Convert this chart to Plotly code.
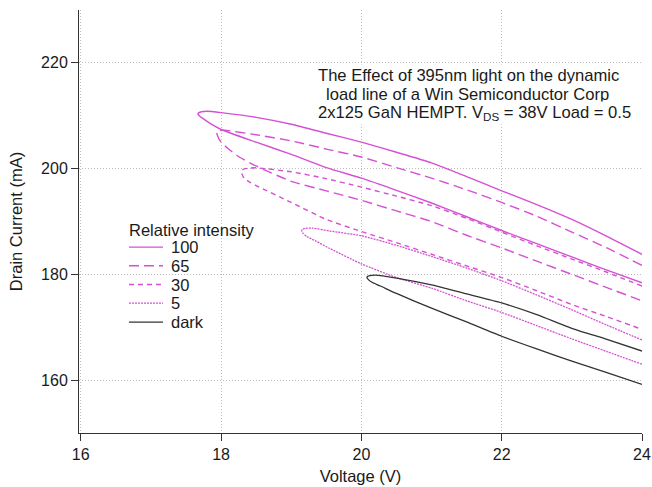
import plotly.graph_objects as go

# ---- data (Voltage V, Drain current mA) ----
series_names = ["100", "65", "30", "5", "dark"]

v100_top = [17.67, 17.72, 17.8, 18.0, 18.5, 19.0, 19.5, 20.0, 20.5, 21.0, 21.5, 22.0, 22.5, 23.0, 23.5, 24.0]
i100_top = [210.45, 210.75, 210.85, 210.6, 209.7, 208.4, 206.7, 205.0, 203.1, 201.1, 198.5, 195.8, 193.2, 190.4, 187.2, 183.8]
v100_bot = [17.67, 17.69, 17.75, 17.85, 18.0, 18.5, 19.0, 19.5, 20.0, 20.5, 21.0, 21.5, 22.0, 22.5, 23.0, 23.5, 24.0]
i100_bot = [210.45, 210.0, 209.4, 208.5, 207.4, 205.0, 202.7, 200.2, 198.2, 195.9, 193.5, 190.9, 188.3, 185.8, 183.3, 180.8, 178.4]

v65_top = [17.94, 17.97, 18.05, 18.5, 19.0, 19.5, 20.0, 20.5, 21.0, 21.5, 22.0, 22.5, 23.0, 23.5, 24.0]
i65_top = [206.9, 207.15, 207.25, 206.4, 205.25, 203.7, 202.2, 200.2, 198.2, 196.0, 193.6, 191.0, 188.0, 185.0, 181.7]
v65_bot = [17.94, 17.95, 17.99, 18.1, 18.27, 18.5, 19.0, 19.5, 20.0, 20.5, 21.0, 21.5, 22.0, 22.5, 23.0, 23.5, 24.0]
i65_bot = [206.9, 206.2, 205.2, 203.8, 202.1, 200.5, 197.6, 195.8, 194.0, 192.0, 190.0, 187.4, 185.0, 182.5, 180.0, 177.5, 175.0]

v30_top = [18.29, 18.33, 18.4, 18.5, 19.0, 19.5, 20.0, 20.5, 21.0, 21.5, 22.0, 22.5, 23.0, 23.5, 24.0]
i30_top = [199.6, 199.95, 200.1, 200.15, 199.4, 198.1, 196.5, 194.8, 193.0, 190.6, 188.0, 185.4, 182.9, 180.4, 177.8]
v30_bot = [18.29, 18.30, 18.33, 18.4, 18.5, 19.0, 19.5, 20.0, 20.5, 21.0, 21.5, 22.0, 22.5, 23.0, 23.5, 24.0]
i30_bot = [199.6, 198.9, 198.2, 197.5, 196.8, 193.6, 190.4, 188.1, 186.0, 183.8, 181.6, 179.4, 176.9, 174.3, 172.0, 169.6]

v5_top = [19.15, 19.2, 19.3, 19.55, 20.0, 20.5, 21.0, 21.5, 22.0, 22.5, 23.0, 23.5, 24.0]
i5_top = [188.4, 188.7, 188.75, 188.2, 187.3, 185.5, 183.4, 181.2, 178.8, 176.1, 173.3, 170.4, 167.6]
v5_bot = [19.15, 19.16, 19.22, 19.35, 19.55, 20.0, 20.5, 21.0, 21.5, 22.0, 22.5, 23.0, 23.5, 24.0]
i5_bot = [188.4, 187.9, 187.2, 186.3, 184.9, 182.0, 179.4, 177.4, 175.0, 172.8, 170.3, 167.8, 165.4, 163.0]

vdark_top = [20.08, 20.12, 20.2, 20.5, 21.0, 21.5, 22.0, 22.5, 23.0, 23.5, 24.0]
idark_top = [179.5, 179.75, 179.85, 179.3, 178.0, 176.3, 174.6, 172.4, 169.8, 167.7, 165.5]
vdark_bot = [20.08, 20.1, 20.15, 20.27, 20.5, 21.0, 21.5, 22.0, 22.5, 23.0, 23.5, 24.0]
idark_bot = [179.5, 179.0, 178.5, 177.8, 176.4, 173.6, 171.0, 168.3, 165.9, 163.6, 161.4, 159.2]

x_ticks = [16, 18, 20, 22, 24]
y_ticks = [160, 180, 200, 220]

MAG = "#d650d3"
DARK = "#333333"
FONT = "Liberation Sans, Arial, sans-serif"
TXT = "#1a1a1a"

loops = [
    ("100", v100_top, i100_top, v100_bot, i100_bot, MAG, "solid", 1.4),
    ("65", v65_top, i65_top, v65_bot, i65_bot, MAG, "10px,5px", 1.4),
    ("30", v30_top, i30_top, v30_bot, i30_bot, MAG, "5px,4px", 1.4),
    ("5", v5_top, i5_top, v5_bot, i5_bot, MAG, "2px,1px", 1.3),
    ("dark", vdark_top, idark_top, vdark_bot, idark_bot, DARK, "solid", 1.3),
]

# target plot area in page pixels (page margin removed by post_script below)
W, H = 652, 487
L, R, T, B = 79, 642, 10, 433.3


def px_x(p):
    return (p - L) / (R - L)


def px_y(p):
    return 1 - (p - T) / (B - T)


fig = go.Figure()
for name, vt, it, vb, ib, col, dash, w in loops:
    xs = vt[::-1] + vb[1:]
    ys = it[::-1] + ib[1:]
    fig.add_trace(go.Scatter(
        x=xs, y=ys, mode="lines", name=name, showlegend=False,
        line=dict(color=col, dash=dash, width=w, shape="spline", smoothing=0.6),
    ))

axis_common = dict(
    showline=True, linecolor="#333333", linewidth=1,
    ticks="outside", ticklen=7, tickwidth=1, tickcolor="#333333",
    showgrid=True, gridcolor="#bdbdbd", gridwidth=1, griddash="1px,2px",
    zeroline=False, tickfont=dict(family=FONT, size=16, color=TXT),
    mirror=False, automargin=False,
)

fig.update_xaxes(range=[15.975, 24.0], tickvals=x_ticks,
                 title=dict(text="Voltage (V)", font=dict(family=FONT, size=16.5, color=TXT), standoff=8),
                 **axis_common)
fig.update_yaxes(range=[150, 230], tickvals=y_ticks,
                 title=dict(text="Drain Current (mA)", font=dict(family=FONT, size=16.5, color=TXT), standoff=14),
                 **axis_common)

# descriptive text block
notes = [
    ("The Effect of 395nm light on the dynamic", 316, 76),
    ("load line of a Win Semiconductor Corp", 324, 95),
    ("2x125 GaN HEMPT. V<sub>DS</sub> = 38V Load = 0.5", 316, 113),
]
for txt, xp, yp in notes:
    fig.add_annotation(
        text=txt, xref="paper", yref="paper", x=px_x(xp), y=px_y(yp),
        xanchor="left", yanchor="middle", showarrow=False,
        font=dict(family=FONT, size=16.6, color=TXT),
        bgcolor="white", borderpad=1,
    )

# legend (drawn manually to match the compact row spacing)
fig.add_shape(type="rect", xref="paper", yref="paper",
              x0=px_x(126), x1=px_x(254), y0=px_y(333), y1=px_y(216),
              fillcolor="white", line=dict(width=0), layer="between")
fig.add_annotation(text="Relative intensity", xref="paper", yref="paper",
                   x=px_x(127), y=px_y(230), xanchor="left", yanchor="middle",
                   showarrow=False, font=dict(family=FONT, size=16.5, color=TXT))
legend_rows = [247.3, 266, 284.7, 303.3, 322.3]
for (name, vt, it, vb, ib, col, dash, w), yrow in zip(loops, legend_rows):
    fig.add_shape(type="line", xref="paper", yref="paper",
                  x0=px_x(129), x1=px_x(163), y0=px_y(yrow), y1=px_y(yrow),
                  line=dict(color=col, dash=dash, width=w), layer="above")
    fig.add_annotation(text=name, xref="paper", yref="paper",
                       x=px_x(169), y=px_y(yrow), xanchor="left", yanchor="middle",
                       showarrow=False, font=dict(family=FONT, size=16.5, color=TXT))

fig.update_layout(
    width=W, height=H,
    margin=dict(l=L, r=W - R, t=T, b=H - B),
    paper_bgcolor="white", plot_bgcolor="white",
    font=dict(family=FONT, size=16, color=TXT),
    showlegend=False,
)

fig.write_html(
    "out.html",
    config={"displayModeBar": False},
    post_script=(
        "document.body.style.margin='0';"
        "document.body.style.overflow='hidden';"
        "document.documentElement.style.overflow='hidden';"
    ),
)
